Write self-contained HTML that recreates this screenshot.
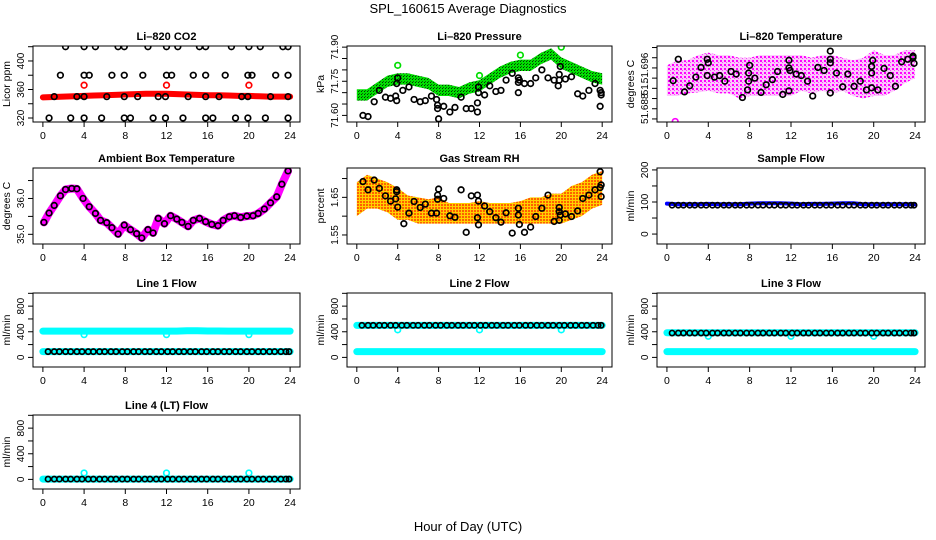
<!DOCTYPE html>
<html><head><meta charset="utf-8">
<style>
html,body{margin:0;padding:0;background:#fff;}
svg{display:block;font-family:"Liberation Sans",Arial,sans-serif;}
.t{font-size:11px;font-weight:bold;text-anchor:middle;}
.tk{font-size:10.5px;text-anchor:middle;}
.yk{font-size:10px;text-anchor:middle;}
</style></head>
<body>
<svg id="chart" width="936" height="540" viewBox="0 0 936 540" xmlns="http://www.w3.org/2000/svg">
<defs>
<pattern id="pGreen" width="3" height="3" patternUnits="userSpaceOnUse"><rect width="3" height="3" fill="#00e000"/><rect x="1" y="1" width="1" height="1" fill="#063006"/><rect x="2" y="0" width="1" height="1" fill="#0a600a"/></pattern>
<pattern id="pPink" width="4" height="4" patternUnits="userSpaceOnUse"><rect width="4" height="4" fill="#fbc8fb"/><rect x="0" y="0" width="2" height="2" fill="#ff00ff"/><rect x="2" y="2" width="1" height="1" fill="#ff40ff"/></pattern>
<pattern id="pOrange" width="3" height="3" patternUnits="userSpaceOnUse"><rect width="3" height="3" fill="#ffd000"/><rect x="0" y="0" width="2" height="2" fill="#ff6000"/></pattern>
</defs>
<text x="468" y="13" font-size="13" text-anchor="middle">SPL_160615  Average Diagnostics</text>
<text x="468" y="531" font-size="13" text-anchor="middle">Hour of Day (UTC)</text>
</svg>
<script>
// ---------- data ----------
const xTicks = [0,4,8,12,16,20,24];
const bandHours = [0,1,2,3,4,5,6,7,8,9,10,11,12,13,14,15,16,17,18,19,20,21,22,23,24];

// CO2
const co2Red = [349,349.5,350,350.5,351,351.5,352,352.5,353,353.5,354,354,354,353.5,353,352.5,352,352,351.5,351,351,350.5,350,350,350];
const co2BlackX = [2.2,4,5.1,7.3,7.9,10.2,12,13.1,15.2,15.8,18.3,20,21.1,23.3,23.8, 1.7,4,4.5,6.7,7.9,9.7,12,12.5,14.6,15.8,17.7,19.9,20.3,22.6,23.8, 1.1,3.3,4,6.2,7.9,9.2,11.2,11.9,14.1,15.8,17.1,19.3,19.9,22.1,23.8, 0.6,2.7,4,5.7,7.9,8.5,10.7,11.9,13.6,15.8,16.5,18.7,19.9,21.6,23.8];
const co2BlackY = [420,420,420,420,420,420,420,420,420,420,420,420,420,420,420, 380,380,380,380,380,380,380,380,380,380,380,380,380,380,380, 350,350,350,350,350,350,350,350,350,350,350,350,350,350,350, 320,320,320,320,320,320,320,320,320,320,320,320,320,320,320];
const co2RedPtsX = [4,12,20];
const co2RedPtsY = [366,366,366];

// Pressure
const presMid = [71.69,71.69,71.72,71.75,71.76,71.76,71.75,71.74,71.71,71.71,71.70,71.72,71.73,71.76,71.79,71.81,71.82,71.82,71.85,71.87,71.83,71.81,71.79,71.77,71.76];
const presHalf = [0.025,0.025,0.025,0.025,0.025,0.025,0.025,0.025,0.025,0.025,0.025,0.025,0.025,0.025,0.025,0.025,0.025,0.025,0.025,0.025,0.025,0.025,0.025,0.025,0.025];
const presBlackX = [0.6,1.1,1.7,2.2,2.8,3.3,3.9,3.8,3.9,4,4.5,5.1,5.6,6.2,6.7,7.3,7.8,7.9,8,7.9,8.5,9.1,9.6,10.2,10.7,11.2,11.8,11.8,11.9,11.9,12.5,13,13.6,14.1,14.6,15.2,15.8,15.8,15.8,15.9,16.4,17,17.5,18.1,18.7,19.3,19.7,19.8,19.8,19.9,20.4,21,21.6,22.1,22.7,23.3,23.8,23.9,23.9,23.8];
const presBlackY = [71.60,71.595,71.66,71.71,71.68,71.675,71.665,71.685,71.74,71.765,71.71,71.725,71.67,71.66,71.665,71.685,71.67,71.63,71.585,71.645,71.64,71.615,71.635,71.68,71.63,71.63,71.615,71.655,71.70,71.725,71.69,71.73,71.705,71.71,71.755,71.785,71.765,71.745,71.70,71.755,71.74,71.74,71.765,71.80,71.765,71.755,71.73,71.755,71.78,71.815,71.76,71.77,71.695,71.685,71.71,71.74,71.71,71.69,71.70,71.64];
const presGreenX = [4,12,16,20];
const presGreenY = [71.82,71.775,71.865,71.90];

// Li-820 temperature
const tempHi = [51.6965,51.6975,51.6975,51.6985,51.6990,51.6985,51.6985,51.6980,51.6980,51.6985,51.6985,51.6985,51.6985,51.6985,51.6980,51.6985,51.6985,51.6980,51.6975,51.6980,51.6995,51.6985,51.6985,51.6995,51.6995];
const tempLo = [51.6905,51.6905,51.6910,51.6912,51.6915,51.6910,51.6910,51.6900,51.6905,51.6905,51.6905,51.6905,51.6905,51.6915,51.6910,51.6915,51.6910,51.6915,51.6905,51.6900,51.6905,51.6905,51.6915,51.6930,51.6940];
const tempBlackX = [0.6,1.1,1.7,2.2,2.8,3.3,3.9,4,3.9,4.6,5.1,5.6,6.2,6.7,7.3,7.8,7.9,7.9,8,8.5,9.1,9.6,10.2,10.7,11.2,11.8,11.8,11.9,11.8,12.5,13,13.6,14.1,14.6,15.2,15.8,15.8,15.8,15.8,16.4,17,17.5,18.1,18.7,19.3,19.8,19.8,19.8,19.9,20.4,21,21.6,22.1,22.7,23.3,23.8,23.8,23.9];
const tempBlackY = [51.6935,51.6977,51.6913,51.6925,51.6942,51.6961,51.6945,51.6970,51.6977,51.6942,51.6945,51.6934,51.6953,51.6948,51.6902,51.6917,51.6934,51.6950,51.6965,51.6940,51.6912,51.6927,51.6937,51.6953,51.6908,51.6915,51.6960,51.6955,51.6975,51.6948,51.6945,51.6934,51.6905,51.6961,51.6955,51.6911,51.6970,51.6977,51.6993,51.6950,51.6923,51.6948,51.6924,51.6934,51.6917,51.6921,51.6950,51.6963,51.6975,51.6917,51.6959,51.6945,51.6924,51.6972,51.6977,51.6983,51.6980,51.6969];
const tempPinkX = [0.8];
const tempPinkY = [51.6855];

// Ambient box temperature
const ambX = [0.1,0.6,1.1,1.7,2.2,2.8,3.3,3.9,4.5,5.1,5.6,6.2,6.7,7.3,7.9,8.5,9.1,9.6,10.2,10.7,11.2,11.8,12.4,13,13.5,14.1,14.6,15.2,15.8,16.4,17,17.5,18.1,18.6,19.2,19.8,20.4,20.9,21.5,22.1,22.7,23.2,23.8];
const ambY = [35.333,35.593,35.806,36.074,36.25,36.278,36.269,36.0,35.769,35.583,35.389,35.324,35.185,35.009,35.259,35.13,35.019,34.898,35.13,35.037,35.444,35.296,35.519,35.426,35.333,35.222,35.389,35.444,35.352,35.278,35.241,35.389,35.491,35.519,35.472,35.509,35.519,35.583,35.704,35.88,36.046,36.398,36.769];

// Gas stream RH
const rhHi = [1.69,1.71,1.70,1.69,1.675,1.655,1.65,1.645,1.65,1.635,1.635,1.635,1.64,1.635,1.635,1.635,1.64,1.65,1.65,1.66,1.66,1.68,1.69,1.71,1.72];
const rhLo = [1.60,1.62,1.62,1.61,1.59,1.59,1.58,1.58,1.58,1.58,1.58,1.58,1.58,1.58,1.58,1.58,1.58,1.58,1.58,1.58,1.58,1.59,1.60,1.62,1.63];
const rhBlackX = [0.6,1.1,1.7,2.2,2.8,3.3,3.8,3.9,3.9,4,4.6,5.1,5.6,6.2,6.7,7.3,7.8,7.9,7.9,8,8.5,9.1,9.6,10.2,10.7,11.2,11.8,11.8,11.9,11.9,12.5,13,13.6,14.1,14.6,15.2,15.8,15.8,15.9,16.4,17,17.5,18.1,18.7,19.3,19.8,19.8,19.8,19.9,20.4,21,21.6,22.1,22.7,23.3,23.8,23.9,23.9,23.8];
const rhBlackY = [1.692,1.670,1.696,1.674,1.654,1.640,1.646,1.670,1.665,1.624,1.580,1.608,1.639,1.623,1.632,1.608,1.608,1.645,1.656,1.672,1.647,1.601,1.597,1.670,1.557,1.654,1.596,1.656,1.640,1.577,1.627,1.612,1.596,1.584,1.609,1.555,1.603,1.621,1.578,1.557,1.571,1.599,1.621,1.656,1.586,1.589,1.612,1.623,1.603,1.606,1.599,1.614,1.647,1.656,1.670,1.718,1.683,1.652,1.676];

// Flows
const flowX = [0.5,1.1,1.6,2.2,2.7,3.3,3.8,4.4,4.9,5.5,6.0,6.6,7.1,7.7,8.2,8.8,9.3,9.9,10.4,11.0,11.5,12.1,12.6,13.2,13.7,14.3,14.8,15.4,15.9,16.5,17.0,17.6,18.1,18.7,19.2,19.8,20.3,20.9,21.4,22.0,22.5,23.1,23.6,23.9];
const sampleBlack = [90,90,90,90,90,90,90,90,90,90,90,90,90,90,90,90,90,90,90,90,90,90,90,90,90,90,90,90,90,90,90,90,90,90,90,90,90,90,90,90,90,90,90,90];
const sampleBlue = [95,93,93,93,94,93,93,93,95,96,96,96,95,93,94,94,95,96,96,93,93,93,93,93,93];
const line1Black = [90,90,90,90,90,90,90,90,90,90,90,90,90,90,90,90,90,90,90,90,90,90,90,90,90,90,90,90,90,90,90,90,90,90,90,90,90,90,90,90,90,90,90,90];
const line1CyanHi = [410,410,410,410,410,410,410,410,410,410,410,410,410,410,415,415,412,412,410,410,410,410,410,410,410];
const line1CyanLo = [90,90,90,90,90,90,90,90,90,90,90,90,90,90,90,90,90,90,90,90,90,90,90,90,90];
const line2Black = [500,500,500,500,500,500,500,500,500,500,500,500,500,500,500,500,500,500,500,500,500,500,500,500,500,500,500,500,500,500,500,500,500,500,500,500,500,500,500,500,500,500,500,500];
const line2CyanHi = [500,500,500,500,500,500,500,500,500,500,500,500,500,500,500,500,500,500,500,500,500,500,500,500,500];
const line2CyanLo = [90,90,90,90,90,90,90,90,90,90,90,90,90,90,90,90,90,90,90,90,90,90,90,90,90];
const line3Black = [380,380,380,380,380,380,380,380,380,380,380,380,380,380,380,380,380,380,380,380,380,380,380,380,380,380,380,380,380,380,380,380,380,380,380,380,380,380,380,380,380,380,380,380];
const line3CyanHi = [385,385,385,385,385,385,385,385,385,385,385,385,385,385,385,385,385,385,385,385,385,385,385,385,385];
const line3CyanLo = [90,90,90,90,90,90,90,90,90,90,90,90,90,90,90,90,90,90,90,90,90,90,90,90,90];
const line4Black = [5,5,5,5,5,5,5,5,5,5,5,5,5,5,5,5,5,5,5,5,5,5,5,5,5,5,5,5,5,5,5,5,5,5,5,5,5,5,5,5,5,5,5,5];
const line4Cyan = [5,5,5,5,5,5,5,5,5,5,5,5,5,5,5,5,5,5,5,5,5,5,5,5,5];
const dipX = [4,12,20];
const line1Dip = [355,355,355];
const line2Dip = [430,430,430];
const line3Dip = [330,330,330];
const line4Dip = [100,100,100];

// ---------- drawing ----------
const svg = document.getElementById('chart');
const NS = 'http://www.w3.org/2000/svg';
function mk(tag, attrs, parent){
  const e = document.createElementNS(NS, tag);
  for (const k in attrs) e.setAttribute(k, attrs[k]);
  (parent||svg).appendChild(e);
  return e;
}
function panel(o){
  const g = mk('g', {});
  
  
  const xs = v => o.x0 + (v - (-0.96)) / 25.92 * (o.x1 - o.x0);
  const ys = v => o.y1 - (v - o.ymin) / (o.ymax - o.ymin) * (o.y1 - o.y0);
  o.xs = xs; o.ys = ys; o.g = g;
  const t = mk('text', {x:(o.x0+o.x1)/2, y:o.y0-6, class:'t'}, g);
  t.textContent = o.title;
  
  
  xTicks.forEach(v => {
    const X = xs(v);
    mk('line', {x1:X, x2:X, y1:o.y1, y2:o.y1+5, stroke:'#000'}, g);
    const l = mk('text', {x:X, y:o.y1+17, class:'tk'}, g);
    l.textContent = v;
    
    
  });
  o.yt.forEach(v => {
    const Y = ys(v);
    mk('line', {x1:o.x0-5, x2:o.x0, y1:Y, y2:Y, stroke:'#000'}, g);
  });
  o.yl.forEach((v, i) => {
    const Y = ys(v);
    const l = mk('text', {x:o.x0-9, y:Y, class:'yk', transform:`rotate(-90 ${o.x0-9} ${Y})`}, g);
    l.textContent = o.ylt ? o.ylt[i] : v;
    
    
  });
  const yl = mk('text', {x:o.x0-23, y:(o.y0+o.y1)/2, class:'tk', transform:`rotate(-90 ${o.x0-23} ${(o.y0+o.y1)/2})`}, g);
  yl.textContent = o.ylab;
  
  
  const cp = 'cp' + o.name;
  const c = mk('clipPath', {id:cp}, g);
  mk('rect', {x:o.x0, y:o.y0, width:o.x1-o.x0, height:o.y1-o.y0}, c);
  o.plot = mk('g', {'clip-path':`url(#${cp})`}, g);
  return o;
}
function frame(o){
  const b = mk('rect', {x:o.x0, y:o.y0, width:o.x1-o.x0, height:o.y1-o.y0, fill:'none', stroke:'#000', 'stroke-width':1}, o.g);
  
  
}
function pts(o, X, Y, color, name, r){
  X.forEach((x, i) => {
    const c = mk('circle', {cx:o.xs(x), cy:o.ys(Y[i]), r:r||2.8, fill:'none', stroke:color, 'stroke-width':1.7}, o.plot);
    
    
  });
}
function line(o, X, Y, color, w, name){
  const p = mk('polyline', {points:X.map((x,i)=>o.xs(x)+','+o.ys(Y[i])).join(' '), fill:'none', stroke:color, 'stroke-width':w, 'stroke-linejoin':'round', 'stroke-linecap':'round'}, o.plot);
  
  
}
function band(o, X, lo, hi, fill, name){
  const top = X.map((x,i)=>o.xs(x)+','+o.ys(hi[i]));
  const bot = X.map((x,i)=>o.xs(x)+','+o.ys(lo[i])).reverse();
  const p = mk('polygon', {points:top.concat(bot).join(' '), fill:fill, stroke:'none'}, o.plot);
  
  
}

const C1=[33,300], C2=[347,612], C3=[657,925];
const R1=[46,122], R2=[168,244], R3=[293,367], R4=[415,489];

let p = panel({name:'co2-panel', title:'Li\u2013820 CO2', x0:C1[0], x1:C1[1], y0:R1[0], y1:R1[1], ymin:314.4, ymax:421, yt:[320,340,360,380,400,420], yl:[320,360,400], ylab:'Licor ppm'});
line(p, bandHours, co2Red, '#ff0000', 6, 'co2-red-series');
pts(p, co2BlackX, co2BlackY, '#000', 'co2-black-point');
pts(p, co2RedPtsX, co2RedPtsY, '#ff0000', 'co2-red-point');
frame(p);

p = panel({name:'pressure-panel', title:'Li\u2013820 Pressure', x0:C2[0], x1:C2[1], y0:R1[0], y1:R1[1], ymin:71.571, ymax:71.905, yt:[71.60,71.65,71.70,71.75,71.80,71.85,71.90], yl:[71.60,71.75,71.90], ylt:['71.60','71.75','71.90'], ylab:'kPa'});
band(p, bandHours, presMid.map((v,i)=>v-presHalf[i]), presMid.map((v,i)=>v+presHalf[i]), 'url(#pGreen)', 'pressure-green-band');
pts(p, presGreenX, presGreenY, '#00dd00', 'pressure-green-point');
pts(p, presBlackX, presBlackY, '#000', 'pressure-black-point');
frame(p);

p = panel({name:'temperature-panel', title:'Li\u2013820 Temperature', x0:C3[0], x1:C3[1], y0:R1[0], y1:R1[1], ymin:51.6854, ymax:51.7003, yt:[51.686,51.688,51.690,51.692,51.694,51.696,51.698,51.700], yl:[51.688,51.692,51.696], ylt:['51.688','51.','51.696'], ylab:'degrees C'});
band(p, bandHours, tempLo, tempHi, 'url(#pPink)', 'temperature-pink-band');
pts(p, tempPinkX, tempPinkY, '#ff00ff', 'temperature-pink-point');
pts(p, tempBlackX, tempBlackY, '#000', 'temperature-black-point');
frame(p);

p = panel({name:'ambient-panel', title:'Ambient Box Temperature', x0:C1[0], x1:C1[1], y0:R2[0], y1:R2[1], ymin:34.73, ymax:36.85, yt:[35.0,35.5,36.0,36.5], yl:[35.0,36.0], ylt:['35.0','36.0'], ylab:'degrees C'});
line(p, ambX, ambY, '#ff00ff', 8, 'ambient-magenta-series');
pts(p, ambX, ambY, '#000', 'ambient-black-point');
frame(p);

p = panel({name:'rh-panel', title:'Gas Stream RH', x0:C2[0], x1:C2[1], y0:R2[0], y1:R2[1], ymin:1.526, ymax:1.728, yt:[1.55,1.60,1.65,1.70], yl:[1.55,1.65], ylt:['1.55','1.65'], ylab:'percent'});
band(p, bandHours, rhLo, rhHi, 'url(#pOrange)', 'rh-orange-band');
pts(p, rhBlackX, rhBlackY, '#000', 'rh-black-point');
frame(p);

p = panel({name:'sample-flow-panel', title:'Sample Flow', x0:C3[0], x1:C3[1], y0:R2[0], y1:R2[1], ymin:-31, ymax:206, yt:[0,50,100,150,200], yl:[0,100,200], ylab:'ml/min'});
line(p, bandHours, sampleBlue, '#0000ff', 4, 'sample-flow-blue-series');
pts(p, flowX, sampleBlack, '#000', 'sample-flow-black-point', 2.6);
frame(p);

const flowYt=[0,200,400,600,800,1000], flowYl=[0,400,800];
function flowPanel(name, title, C, R, hi, lo, black, dip){
  const q = panel({name:name, title:title, x0:C[0], x1:C[1], y0:R[0], y1:R[1], ymin:-150, ymax:1005, yt:flowYt, yl:flowYl, ylab:'ml/min'});
  line(q, bandHours, hi, '#00ffff', 7, name+'-cyan-upper');
  if (lo) line(q, bandHours, lo, '#00ffff', 7, name+'-cyan-lower');
  pts(q, dipX, dip, '#00ffff', name+'-cyan-point');
  pts(q, flowX, black, '#000', name+'-black-point', 2.6);
  frame(q);
}
flowPanel('line1-flow-panel', 'Line 1 Flow', C1, R3, line1CyanHi, line1CyanLo, line1Black, line1Dip);
flowPanel('line2-flow-panel', 'Line 2 Flow', C2, R3, line2CyanHi, line2CyanLo, line2Black, line2Dip);
flowPanel('line3-flow-panel', 'Line 3 Flow', C3, R3, line3CyanHi, line3CyanLo, line3Black, line3Dip);
flowPanel('line4-flow-panel', 'Line 4 (LT) Flow', C1, R4, line4Cyan, null, line4Black, line4Dip);
</script>
</body></html>
